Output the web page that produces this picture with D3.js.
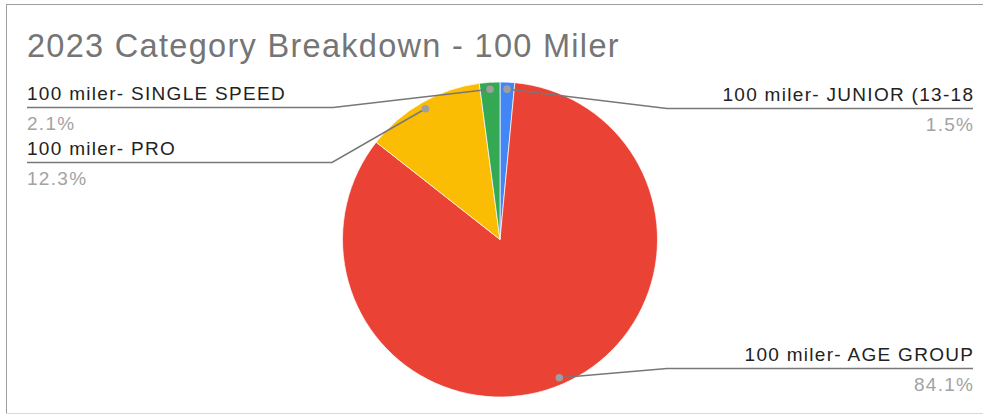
<!DOCTYPE html>
<html>
<head>
<meta charset="utf-8">
<script src="https://cdn.jsdelivr.net/npm/d3@7"></script>
<style>
  html, body { margin: 0; padding: 0; background: #fff; }
  svg { display: block; }
  text { font-family: "Liberation Sans", Arial, sans-serif; }
</style>
</head>
<body>
<svg id="chart" width="983" height="415"></svg>
<script>
const title = "2023 Category Breakdown - 100 Miler";
const categories = ["100 miler- JUNIOR (13-18", "100 miler- AGE GROUP", "100 miler- PRO", "100 miler- SINGLE SPEED"];
const values = [1.5, 84.1, 12.3, 2.1];
const colors = ["#4285f4", "#ea4335", "#fbbc04", "#34a853"];

const svg = d3.select("#chart");
const W = 983, H = 415;

// frame
svg.append("line").attr("x1", 6).attr("x2", W).attr("y1", 4.5).attr("y2", 4.5).attr("stroke", "#9e9e9e").attr("stroke-width", 1);
svg.append("line").attr("x1", 6.5).attr("x2", 6.5).attr("y1", 4).attr("y2", 414).attr("stroke", "#9e9e9e").attr("stroke-width", 1);
svg.append("line").attr("x1", 6).attr("x2", W).attr("y1", 413.5).attr("y2", 413.5).attr("stroke", "#d9d9d9").attr("stroke-width", 1);

// title
svg.append("text").attr("x", 27).attr("y", 57)
  .attr("font-size", 32.5).attr("letter-spacing", 1.3)
  .attr("fill", "#757575").text(title);

const cx = 500, cy = 239.5, R = 157.5;
const total = d3.sum(values);
const pie = d3.pie().sort(null).value(d => d.v);
const arcs = pie(values.map((v, i) => ({ v, name: categories[i], color: colors[i] })));
const arc = d3.arc().innerRadius(0).outerRadius(R);
const dotArc = d3.arc().innerRadius(R - 7).outerRadius(R - 7);

const g = svg.append("g").attr("transform", `translate(${cx},${cy})`);
g.selectAll("path.slice").data(arcs).enter().append("path")
  .attr("class", "slice")
  .attr("d", arc)
  .attr("fill", d => d.data.color)
  .attr("stroke", "#fff").attr("stroke-width", 0.7);

// label layout (computed in code): side, label baseline y, underline y, elbow x
const layout = {
  "100 miler- JUNIOR (13-18": { side: "right", y: 101, elbowX: 667 },
  "100 miler- AGE GROUP": { side: "right", y: 361, elbowX: 667 },
  "100 miler- PRO": { side: "left", y: 155, elbowX: 332 },
  "100 miler- SINGLE SPEED": { side: "left", y: 100, elbowX: 333 }
};
const fmt = d3.format(".1f");
const LS = 1.3, FS = 19;

arcs.forEach(a => {
  const L = layout[a.data.name];
  const [dx, dy] = dotArc.centroid(a);
  const px = cx + dx, py = cy + dy;
  const lineY = L.y + 7.5;
  const farX = L.side === "left" ? 27 : 973;
  svg.append("polyline")
    .attr("points", `${farX},${lineY} ${L.elbowX},${lineY} ${px},${py}`)
    .attr("fill", "none").attr("stroke", "#777").attr("stroke-width", 1.5);
  svg.append("circle").attr("cx", px).attr("cy", py).attr("r", 3.8).attr("fill", "#9e9e9e");
  const anchor = L.side === "left" ? "start" : "end";
  const tx = L.side === "left" ? 27 : 973 + LS;
  svg.append("text").attr("x", tx).attr("y", L.y)
    .attr("text-anchor", anchor).attr("font-size", FS).attr("letter-spacing", LS)
    .attr("fill", "#222").text(a.data.name);
  svg.append("text").attr("x", tx).attr("y", L.y + 30)
    .attr("text-anchor", anchor).attr("font-size", FS).attr("letter-spacing", LS)
    .attr("fill", "#a3a3a3").text(fmt(a.data.v / total * 100) + "%");
});
</script>
</body>
</html>
